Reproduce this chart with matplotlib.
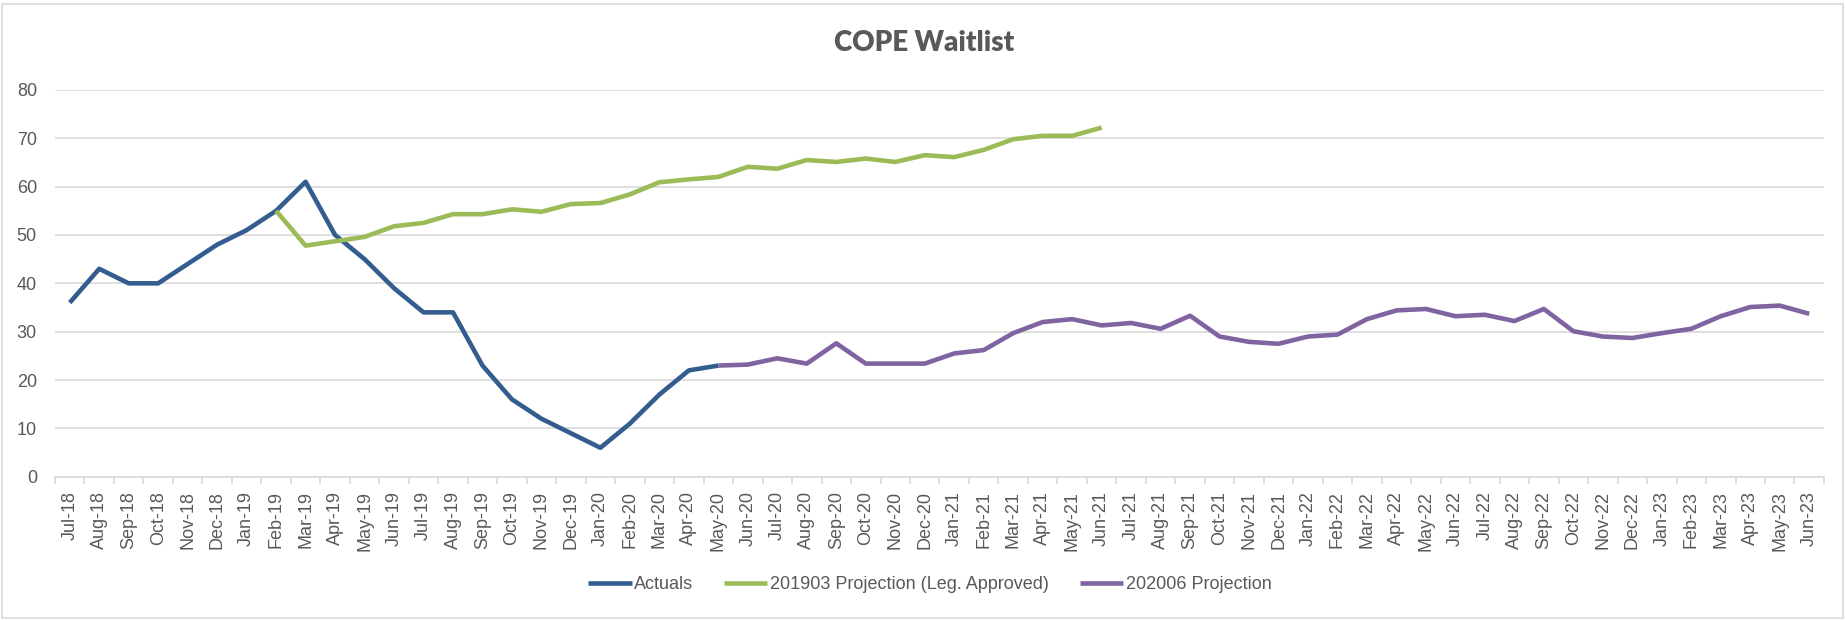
# COPE Waitlist - actuals vs. projections, monthly Jul-18 to Jun-23

import numpy as np
import pandas as pd
import matplotlib.pyplot as plt
from matplotlib.patches import Rectangle

months = list(pd.date_range("2018-07-01", "2023-06-01", freq="MS").strftime("%b-%y"))

# Actuals: Jul-18 .. May-20
actuals = [36, 43, 40, 40, 44, 48, 51, 55, 61, 50, 45, 39, 34, 34, 23, 16,
           12, 9, 6, 11, 17, 22, 23]
# 201903 Projection (Leg. Approved): Feb-19 .. Jun-21
proj_2019 = [55, 47.8, 48.7, 49.6, 51.8, 52.5, 54.3, 54.3, 55.3, 54.8, 56.4,
             56.6, 58.4, 60.9, 61.5, 62.0, 64.1, 63.7, 65.5, 65.1, 65.8, 65.1, 66.5,
             66.1, 67.6, 69.8, 70.5, 70.5, 72.2]
# 202006 Projection: May-20 .. Jun-23
proj_2020 = [23, 23.2, 24.5, 23.4, 27.6, 23.4, 23.4, 23.4,
             25.5, 26.2, 29.7, 32.0, 32.6, 31.3, 31.8, 30.6, 33.3, 29.0, 27.9, 27.5,
             29.0, 29.4, 32.6, 34.4, 34.7, 33.2, 33.5, 32.2, 34.7, 30.1, 29.0, 28.7,
             29.7, 30.6, 33.2, 35.1, 35.4, 33.7]

series = [
    ("Actuals", "Jul-18", actuals, "#335C8F"),
    ("201903 Projection (Leg. Approved)", "Feb-19", proj_2019, "#9BBB59"),
    ("202006 Projection", "May-20", proj_2020, "#8064A2"),
]

plt.rcParams["font.family"] = ["Liberation Sans", "DejaVu Sans"]
text_color = "#595959"
grid_color = "#D9D9D9"

fig = plt.figure(figsize=(18.45, 6.2), dpi=100)
ax = fig.add_axes([0.0298, 0.231, 0.9588, 0.624])

x = np.arange(len(months))
for name, start, vals, color in series:
    i0 = months.index(start)
    ax.plot(x[i0:i0 + len(vals)], vals, color=color, lw=3.3, label=name,
            solid_capstyle="butt", solid_joinstyle="round")

ax.set_xlim(-0.5, len(months) - 0.5)
ax.set_ylim(0, 80)
ax.set_yticks(range(0, 81, 10))
ax.yaxis.grid(True, color=grid_color, lw=1.2)
ax.set_axisbelow(True)

ax.set_xticks(x)
ax.set_xticklabels(months, rotation=90, fontsize=13, color=text_color)
ax.set_xticks(np.arange(-0.5, len(months)), minor=True)
ax.tick_params(axis="x", which="major", length=0, pad=10)
ax.tick_params(axis="x", which="minor", length=5, color=grid_color, width=1.2)
ax.tick_params(axis="y", length=0, pad=13, labelsize=13, labelcolor=text_color)

for side in ["top", "right", "left"]:
    ax.spines[side].set_visible(False)
ax.spines["bottom"].set_color(grid_color)
ax.spines["bottom"].set_linewidth(1.2)

fig.text(0.501, 0.931, "COPE Waitlist", ha="center", va="center",
         fontsize=20, fontweight="heavy", color=text_color, family=["Lato", "DejaVu Sans"])

fig.legend(loc="center", bbox_to_anchor=(0.504, 0.057), ncol=3, frameon=False,
           fontsize=13, labelcolor=text_color, handlelength=2.4,
           handletextpad=0.15, columnspacing=1.7)

fig.patches.append(Rectangle((0.001, 0.003), 0.998, 0.991, transform=fig.transFigure,
                             fill=False, edgecolor=grid_color, lw=1.2))

fig.savefig("out.png", dpi=100)
